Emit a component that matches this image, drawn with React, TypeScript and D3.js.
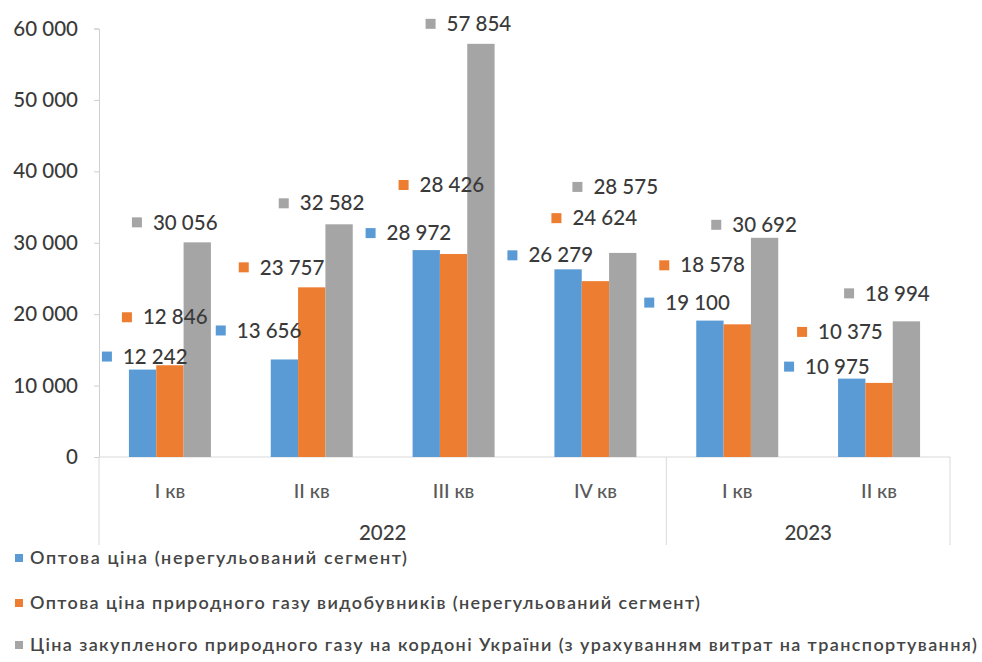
import React, { useEffect, useRef } from 'react';
import * as d3 from 'd3';

// quarters (first level) and years (second level)
const quarters = ['I кв', 'II кв', 'III кв', 'IV кв', 'I кв', 'II кв'];
const years = ['2022', '2023'];
const yearSpans = [4, 2];

const seriesNames = [
  'Оптова ціна (нерегульований сегмент)',
  'Оптова ціна природного газу видобувників (нерегульований сегмент)',
  'Ціна закупленого природного газу на кордоні України (з урахуванням витрат на транспортування)',
];
const wholesale = [12242, 13656, 28972, 26279, 19100, 10975];
const producers = [12846, 23757, 28426, 24624, 18578, 10375];
const border = [30056, 32582, 57854, 28575, 30692, 18994];
const yTicks = [0, 10000, 20000, 30000, 40000, 50000, 60000];

const colors = ['#5B9BD5', '#ED7D31', '#A5A5A5'];

// manual data-label nudges (px): dx from group centre, dy from bar top
const labelDx = [
  [-47, -75, -67, -67, -72, -74],
  [-27, -52, -34, -23, -57, -61],
  [-17, -12, -7, -2, -5, -14],
];
const labelDy = [
  [-13, -29, -17, -14, -18, -12],
  [-48, -20, -69, -63, -59, -51],
  [-20, -21, -20, -66, -13, -28],
];

const legendWidths = [377, 670, 947];

export default function App() {
  const svgRef = useRef<SVGSVGElement>(null);

  useEffect(() => {
    if (!svgRef.current) return;
    const svg = d3.select(svgRef.current);
    svg.selectAll('*').remove();

    const series = [wholesale, producers, border];
    const left = 99, right = 950, bottom = 457, top = 28.5;
    const font = 'Lato, "Open Sans", sans-serif';

    const x = d3.scaleBand<number>()
      .domain(d3.range(quarters.length))
      .range([left, right])
      .padding(0);
    const groupW = 82;
    const xInner = d3.scaleBand<number>()
      .domain(d3.range(series.length))
      .range([0, groupW]);
    const y = d3.scaleLinear().domain([0, 60000]).range([bottom, top]);

    const loc = d3.formatLocale({ decimal: ',', thousands: ' ', grouping: [3], currency: ['', ''] });
    const fmt = loc.format(',d');

    // y axis
    const yAxis = svg.append('g')
      .attr('transform', `translate(${left},0)`)
      .call(d3.axisLeft(y).tickValues(yTicks).tickSize(5).tickPadding(16).tickFormat(d => fmt(d as number)));
    yAxis.select('.domain').attr('stroke', '#d0d0d0');
    yAxis.selectAll('.tick line').attr('stroke', '#d0d0d0');
    yAxis.selectAll('.tick text')
      .attr('fill', '#3a3a3a')
      .style('font-family', font)
      .style('font-weight', 500)
      .style('font-size', '20.5px');

    // x axis baseline + group separators
    svg.append('line')
      .attr('x1', left).attr('x2', right)
      .attr('y1', bottom).attr('y2', bottom)
      .attr('stroke', '#d9d9d9');

    let acc = 0;
    const bounds = [0];
    yearSpans.forEach(s => { acc += s; bounds.push(acc); });
    bounds.forEach(b => {
      const bx = b < quarters.length ? (x(b) as number) : right;
      svg.append('line')
        .attr('x1', bx).attr('x2', bx)
        .attr('y1', bottom).attr('y2', 545)
        .attr('stroke', '#d9d9d9');
    });

    // quarter labels
    svg.append('g').selectAll('text')
      .data(quarters)
      .join('text')
      .attr('x', (_, i) => (x(i) as number) + x.bandwidth() / 2)
      .attr('y', 491)
      .attr('dy', '0.35em')
      .attr('text-anchor', 'middle')
      .attr('fill', '#595959')
      .style('font-family', font)
      .style('font-weight', 500)
      .style('font-size', '19.5px')
      .text(d => d);

    // year labels
    svg.append('g').selectAll('text')
      .data(years)
      .join('text')
      .attr('x', (_, i) => {
        const a = x(bounds[i]) as number;
        const b = bounds[i + 1] < quarters.length ? (x(bounds[i + 1]) as number) : right;
        return (a + b) / 2;
      })
      .attr('y', 533)
      .attr('dy', '0.35em')
      .attr('text-anchor', 'middle')
      .attr('fill', '#404040')
      .style('font-family', font)
      .style('font-weight', 500)
      .style('font-size', '20.5px')
      .text(d => d);

    // bars
    series.forEach((vals, s) => {
      svg.append('g').selectAll('rect')
        .data(vals)
        .join('rect')
        .attr('x', (_, i) => (x(i) as number) + (x.bandwidth() - groupW) / 2 + (xInner(s) as number))
        .attr('y', d => y(d))
        .attr('width', xInner.bandwidth())
        .attr('height', d => bottom - y(d))
        .attr('fill', colors[s]);
    });

    // data labels with legend keys
    series.forEach((vals, s) => {
      const g = svg.append('g');
      vals.forEach((v, i) => {
        const cx = (x(i) as number) + x.bandwidth() / 2;
        const tx = cx + labelDx[s][i];
        const cy = y(v) + labelDy[s][i];
        g.append('rect')
          .attr('x', tx - 21).attr('y', cy - 5)
          .attr('width', 10).attr('height', 10)
          .attr('fill', colors[s]);
        g.append('text')
          .attr('x', tx).attr('y', cy)
          .attr('dy', '0.35em')
          .attr('fill', '#3a3a3a')
          .style('font-family', font)
          .style('font-weight', 500)
          .style('font-size', '20.5px')
          .text(fmt(v));
      });
    });

    // legend
    const legendY = [558, 603, 645];
    seriesNames.forEach((name, s) => {
      svg.append('rect')
        .attr('x', 15).attr('y', legendY[s] - 4)
        .attr('width', 8).attr('height', 8)
        .attr('fill', colors[s]);
      svg.append('text')
        .attr('x', 30).attr('y', legendY[s])
        .attr('dy', '0.35em')
        .attr('fill', '#454545')
        .attr('textLength', legendWidths[s])
        .attr('lengthAdjust', 'spacing')
        .style('font-family', font)
        .style('font-weight', 600)
        .style('font-size', '18px')
        .text(name);
    });
  }, []);

  return (
    <svg
      ref={svgRef}
      width={982}
      height={662}
      style={{ position: 'absolute', left: 0, top: 0, background: '#fff' }}
    />
  );
}
